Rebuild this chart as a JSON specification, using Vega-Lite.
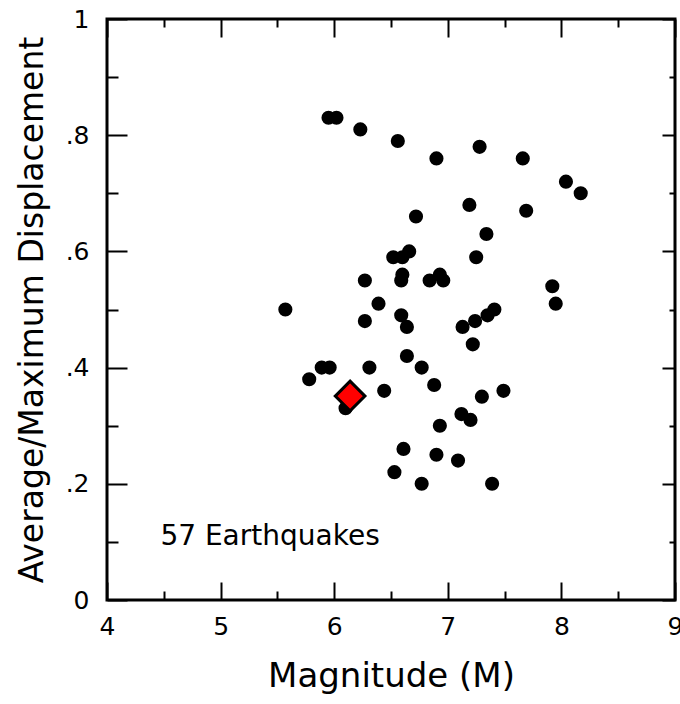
{
  "$schema": "https://vega.github.io/schema/vega-lite/v6.json",
  "width": 568,
  "height": 581,
  "autosize": {"type": "none"},
  "padding": {"left": 107, "top": 19, "right": 5, "bottom": 104},
  "background": "white",
  "config": {
    "view": {"stroke": "black", "strokeWidth": 3},
    "font": "DejaVu Sans"
  },
  "datasets": {
    "quakes": [
      {"m": 5.95, "r": 0.83}, {"m": 6.02, "r": 0.83}, {"m": 6.23, "r": 0.81}, {"m": 6.56, "r": 0.79},
      {"m": 6.90, "r": 0.76}, {"m": 7.28, "r": 0.78}, {"m": 7.66, "r": 0.76}, {"m": 8.04, "r": 0.72},
      {"m": 8.17, "r": 0.70}, {"m": 7.19, "r": 0.68}, {"m": 7.69, "r": 0.67}, {"m": 6.72, "r": 0.66},
      {"m": 7.34, "r": 0.63}, {"m": 6.52, "r": 0.59}, {"m": 6.60, "r": 0.59}, {"m": 6.66, "r": 0.60},
      {"m": 7.25, "r": 0.59}, {"m": 6.27, "r": 0.55}, {"m": 6.60, "r": 0.56}, {"m": 6.59, "r": 0.55},
      {"m": 6.84, "r": 0.55}, {"m": 6.93, "r": 0.56}, {"m": 6.96, "r": 0.55}, {"m": 6.39, "r": 0.51},
      {"m": 5.57, "r": 0.50}, {"m": 6.27, "r": 0.48}, {"m": 6.59, "r": 0.49}, {"m": 6.64, "r": 0.47},
      {"m": 7.13, "r": 0.47}, {"m": 7.24, "r": 0.48}, {"m": 7.35, "r": 0.49}, {"m": 7.41, "r": 0.50},
      {"m": 7.92, "r": 0.54}, {"m": 7.95, "r": 0.51}, {"m": 7.22, "r": 0.44}, {"m": 6.64, "r": 0.42},
      {"m": 6.77, "r": 0.40}, {"m": 6.88, "r": 0.37}, {"m": 5.89, "r": 0.40}, {"m": 5.96, "r": 0.40},
      {"m": 5.78, "r": 0.38}, {"m": 6.31, "r": 0.40}, {"m": 6.44, "r": 0.36}, {"m": 6.10, "r": 0.33},
      {"m": 7.30, "r": 0.35}, {"m": 7.49, "r": 0.36}, {"m": 7.12, "r": 0.32}, {"m": 7.20, "r": 0.31},
      {"m": 6.93, "r": 0.30}, {"m": 6.90, "r": 0.25}, {"m": 6.61, "r": 0.26}, {"m": 6.53, "r": 0.22},
      {"m": 6.77, "r": 0.20}, {"m": 7.09, "r": 0.24}, {"m": 7.39, "r": 0.20}
    ],
    "highlight": [{"m": 6.14, "r": 0.351}],
    "note": [{"m": 4.47, "r": 0.108, "label": "57 Earthquakes"}]
  },
  "layer": [
    {
      "data": {"name": "quakes"},
      "mark": {"type": "point", "shape": "circle", "filled": true, "color": "black", "opacity": 1, "size": 200},
      "encoding": {
        "x": {
          "field": "m", "type": "quantitative",
          "scale": {"domain": [4, 9], "nice": false, "zero": false},
          "axis": {
            "orient": "bottom", "values": [4, 5, 6, 7, 8, 9], "ticks": false, "domain": false, "grid": false,
            "labelFontSize": 25, "labelColor": "black", "labelPadding": 14, "labelFlush": false, "labelOverlap": false,
            "title": "Magnitude (M)", "titleFontSize": 34, "titleFontWeight": "normal", "titleColor": "black", "titlePadding": 20
          }
        },
        "y": {
          "field": "r", "type": "quantitative",
          "scale": {"domain": [0, 1], "nice": false},
          "axis": {
            "orient": "left", "values": [0, 0.2, 0.4, 0.6, 0.8, 1], "ticks": false, "domain": false, "grid": false,
            "labelExpr": "datum.value == 0 ? '0' : datum.value == 1 ? '1' : replace(format(datum.value, '.1f'), '0.', '.')",
            "labelFontSize": 25, "labelColor": "black", "labelPadding": 18, "labelFlush": false, "labelOverlap": false,
            "title": "Average/Maximum Displacement", "titleFontSize": 33, "titleFontWeight": "normal", "titleColor": "black", "titlePadding": 16
          }
        }
      }
    },
    {
      "data": {"name": "highlight"},
      "mark": {"type": "point", "shape": "diamond", "filled": true, "fill": "#ff0000", "stroke": "black", "strokeWidth": 3, "opacity": 1, "fillOpacity": 1, "size": 880},
      "encoding": {
        "x": {
          "field": "m", "type": "quantitative",
          "axis": {
            "orient": "bottom", "values": [4, 4.5, 5, 5.5, 6, 6.5, 7, 7.5, 8, 8.5, 9], "labels": false, "domain": false, "grid": false, "title": null,
            "tickColor": "black", "tickWidth": 2,
            "tickSize": {"condition": {"test": "datum.value % 1 === 0", "value": -18}, "value": -9}
          }
        },
        "y": {
          "field": "r", "type": "quantitative",
          "axis": {
            "orient": "left", "values": [0, 0.1, 0.2, 0.3, 0.4, 0.5, 0.6, 0.7, 0.8, 0.9, 1], "labels": false, "domain": false, "grid": false, "title": null,
            "tickColor": "black", "tickWidth": 2,
            "tickSize": {"condition": {"test": "round(datum.value * 10) % 2 === 0", "value": -20}, "value": -11}
          }
        }
      }
    },
    {
      "data": {"name": "note"},
      "mark": {"type": "text", "align": "left", "baseline": "middle", "fontSize": 28, "color": "black", "font": "DejaVu Sans"},
      "encoding": {
        "text": {"field": "label"},
        "x": {
          "field": "m", "type": "quantitative",
          "axis": {
            "orient": "top", "values": [4, 4.5, 5, 5.5, 6, 6.5, 7, 7.5, 8, 8.5, 9], "labels": false, "domain": false, "grid": false, "title": null,
            "tickColor": "black", "tickWidth": 2,
            "tickSize": {"condition": {"test": "datum.value % 1 === 0", "value": -18}, "value": -8}
          }
        },
        "y": {
          "field": "r", "type": "quantitative",
          "axis": {
            "orient": "right", "values": [0, 0.1, 0.2, 0.3, 0.4, 0.5, 0.6, 0.7, 0.8, 0.9, 1], "labels": false, "domain": false, "grid": false, "title": null,
            "tickColor": "black", "tickWidth": 2,
            "tickSize": {"condition": {"test": "round(datum.value * 10) % 2 === 0", "value": -13}, "value": -6}
          }
        }
      }
    }
  ],
  "resolve": {"axis": {"x": "independent", "y": "independent"}}
}
